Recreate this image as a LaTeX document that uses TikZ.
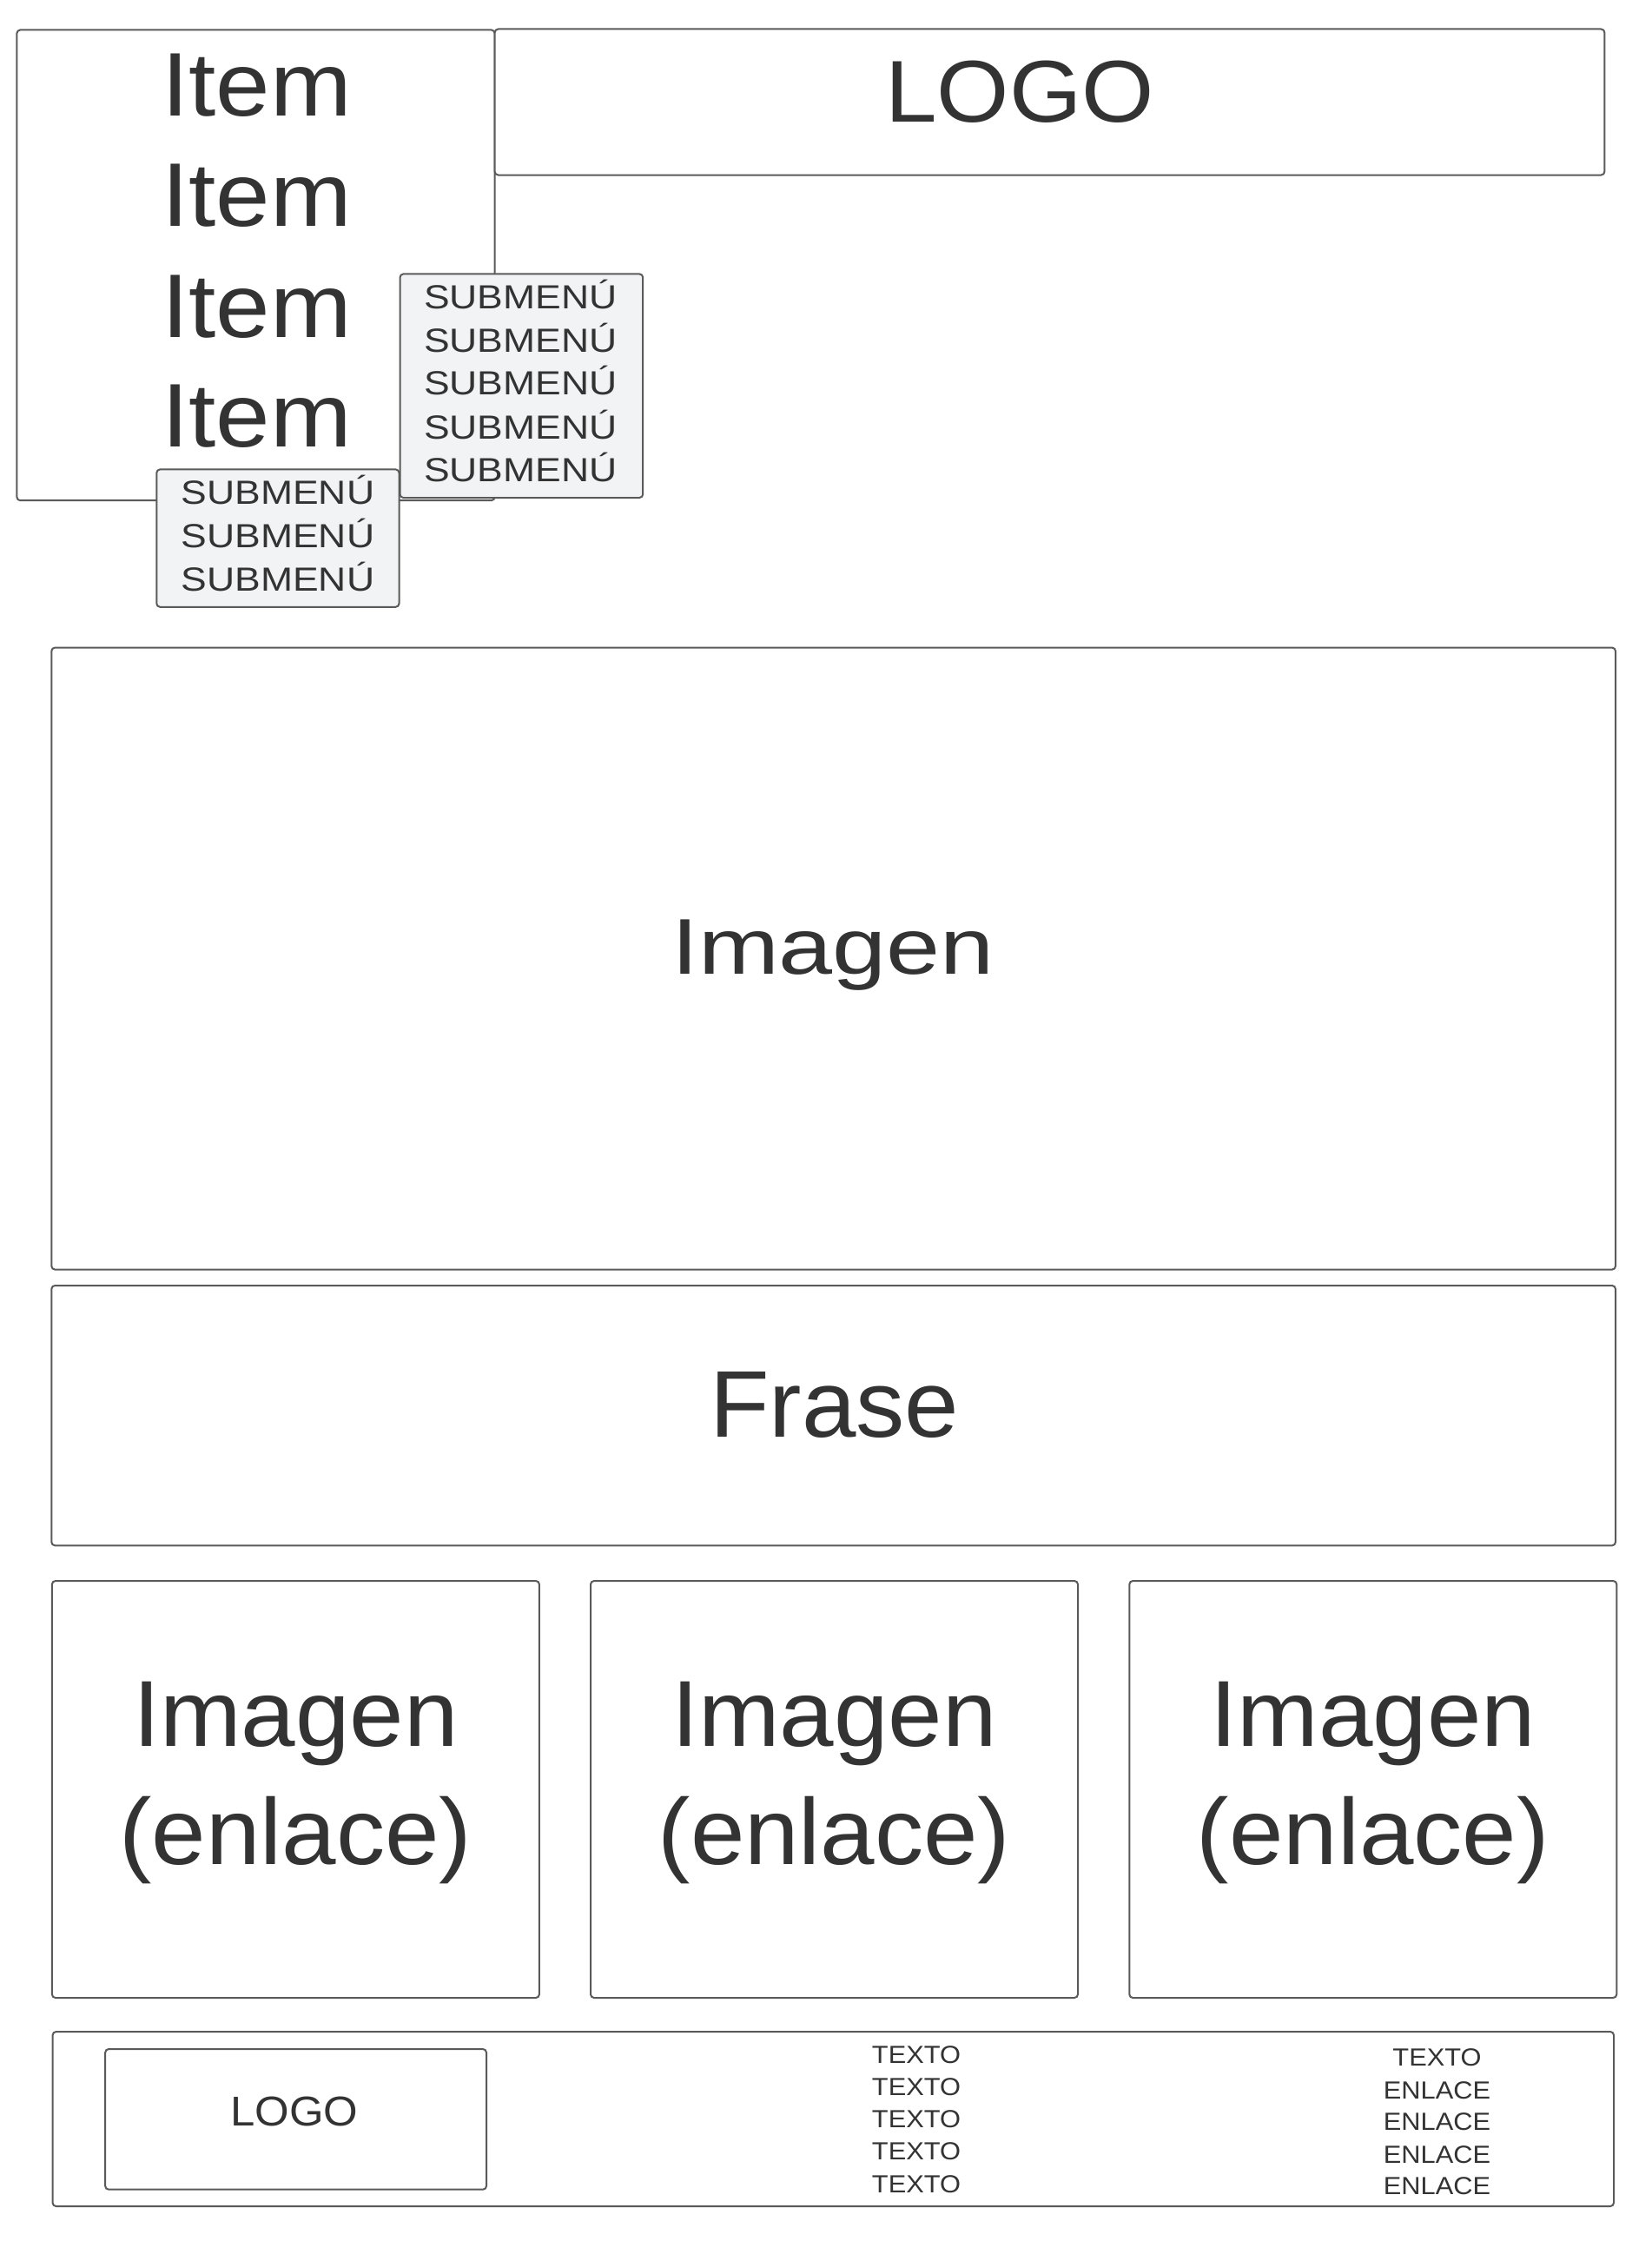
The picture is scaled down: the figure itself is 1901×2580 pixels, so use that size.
\documentclass[tikz,border=0pt]{standalone}
\usepackage{fontspec}
\setmainfont{Liberation Sans}
\definecolor{ln}{HTML}{5A5A5A}
\definecolor{tx}{HTML}{333333}
\definecolor{subfill}{HTML}{F1F3F4}
\begin{document}
\begin{tikzpicture}[x=1pt,y=-1pt,
  box/.style={draw=ln, line width=2pt, rounded corners=4pt, fill=white, inner sep=0pt, outer sep=0pt},
  subbox/.style={box, fill=subfill},
  lbl/.style={text=tx, inner sep=0pt, outer sep=0pt, anchor=base},
  fItem/.style={lbl, font=\fontsize{104}{120}\selectfont},
  fLogo/.style={lbl, font=\fontsize{101}{120}\selectfont},
  fSub/.style={lbl, font=\fontsize{38.5}{44}\selectfont},
  fHero/.style={lbl, font=\fontsize{91}{100}\selectfont},
  fFrase/.style={lbl, font=\fontsize{109}{120}\selectfont},
  fCard/.style={lbl, font=\fontsize{108}{120}\selectfont},
  fFLogo/.style={lbl, font=\fontsize{48}{56}\selectfont},
  fSmall/.style={lbl, font=\fontsize{28.5}{32}\selectfont},
]
\useasboundingbox (0,0) rectangle (1901,2580);
\fill[white] (0,0) rectangle (1901,2580);

% header
\node[box, minimum width=550.2pt, minimum height=541.8pt] (menu) at (294.5,305.3) {};
\node[box, minimum width=1277.8pt, minimum height=168pt] (logo) at (1208.5,117.5) {};
\node[subbox, minimum width=279.2pt, minimum height=158.4pt] (subB) at (319.9,619.6) {};
\node[subbox, minimum width=279.7pt, minimum height=257.6pt] (subR) at (600.35,444.2) {};

\node[fLogo] (logotxt) at (1174,140) {\scalebox{1.06}[1]{LOGO}};
\foreach \y [count=\i] in {133.2,260.8,388,514.2}
  \node[fItem] (item\i) at (295.5,\y) {\scalebox{1.08}[1]{Item}};
\foreach \y [count=\i] in {355.8,405,454.5,505,554.6}
  \node[fSub] (subr\i) at (599.4,\y) {\scalebox{1.155}[1]{SUBMENÚ}};
\foreach \y [count=\i] in {580.8,630.4,680.4}
  \node[fSub] (subb\i) at (320,\y) {\scalebox{1.155}[1]{SUBMENÚ}};

% hero
\node[box, minimum width=1800.7pt, minimum height=716pt] (hero) at (959.65,1103.6) {};
\node[fHero] (herotxt) at (959,1121) {\scalebox{1.225}[1]{Imagen}};

% frase
\node[box, minimum width=1800.7pt, minimum height=299.3pt] (frase) at (959.65,1629.65) {};
\node[fFrase] (frasetxt) at (960.5,1654) {\scalebox{1.03}[1]{Frase}};

% cards
\foreach \x [count=\i] in {340.4,960.5,1580.8} {
  \node[box, minimum width=561pt, minimum height=480pt] (card\i) at (\x,2060) {};
  \node[fCard] (cardimg\i) at (\x,2010.7) {\scalebox{1.04}[1]{Imagen}};
  \node[fCard] (cardlnk\i) at (\x,2146.7) {\scalebox{1.04}[1]{(enlace)}};
}

% footer
\node[box, minimum width=1797.4pt, minimum height=201pt] (footer) at (959.3,2439.5) {};
\node[box, minimum width=438.8pt, minimum height=161.7pt] (flogo) at (340.6,2439.85) {};
\node[fFLogo] (flogotxt) at (339,2447.7) {\scalebox{1.06}[1]{LOGO}};
\foreach \y [count=\i] in {2375,2412.3,2449.3,2486.7,2524}
  \node[fSmall] (texto\i) at (1055,\y) {\scalebox{1.08}[1]{TEXTO}};
\node[fSmall] (rc1) at (1654.5,2378.3) {\scalebox{1.08}[1]{TEXTO}};
\foreach \y [count=\i from 2] in {2416,2452.7,2490,2526.7}
  \node[fSmall] (rc\i) at (1654.5,\y) {\scalebox{1.08}[1]{ENLACE}};
\end{tikzpicture}
\end{document}
